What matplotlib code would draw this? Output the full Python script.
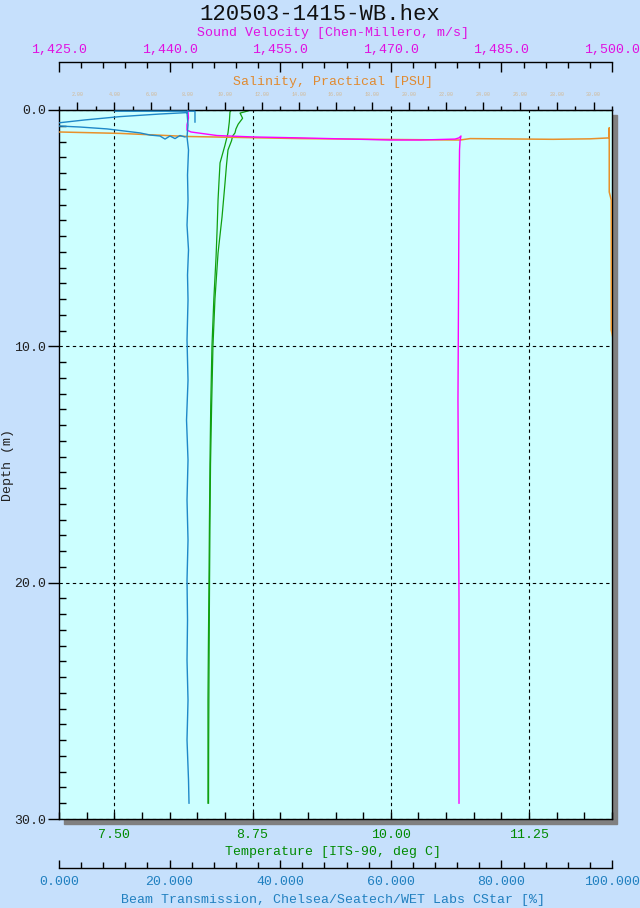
import numpy as np
import matplotlib
matplotlib.use("Agg")
import matplotlib.pyplot as plt
from matplotlib.ticker import MultipleLocator, FixedLocator, FuncFormatter
from matplotlib.patches import Rectangle

plt.rcParams['font.family'] = ['Liberation Mono', 'DejaVu Sans Mono']

# ---------------------------------------------------------------
# profile data (depth in m)
# ---------------------------------------------------------------
# temperature, two passes (deg C)
temp_a_depth = [0.0, 0.08, 0.5, 0.97, 1.5, 2.24, 3.0, 3.81, 5.0, 6.22, 8.0,
                9.99, 12.5, 14.98, 17.5, 20.0, 22.5, 24.97, 27.0, 29.33]
temp_a = [8.56, 8.546, 8.54, 8.528, 8.50, 8.456, 8.447, 8.438, 8.43, 8.420, 8.40,
          8.383, 8.372, 8.365, 8.360, 8.356, 8.351, 8.347, 8.347, 8.347]
temp_b_depth = [0.04, 0.13, 0.35, 0.6, 0.8, 0.97, 1.1, 1.3, 1.69, 2.3, 3.09,
                4.53, 6.05, 8.0, 9.99, 12.5, 14.98, 17.5, 20.0, 24.0, 27.0, 29.33]
temp_b = [8.709, 8.637, 8.66, 8.62, 8.60, 8.591, 8.57, 8.56, 8.528, 8.515, 8.501,
          8.474, 8.438, 8.41, 8.392, 8.38, 8.370, 8.365, 8.361, 8.356, 8.353, 8.352]

# beam transmission (%), nan = gap in the trace
beam_depth = [0.51, 0.05, 0.05, 0.05, np.nan,
              0.56, 0.42, 0.28, 0.17, 0.11, np.nan,
              0.67, 0.72, 0.80, 0.97, 1.06, 1.10, 1.23, 1.10, 1.21, 1.08, 1.14, np.nan,
              0.11, 0.63, 1.14, 1.69, 2.75, 3.81, 4.87, 5.92, 6.98, 8.04, 9.73,
              11.43, 13.12, 14.81, 16.50, 18.20, 19.89, 21.58, 23.28, 24.97,
              26.66, 28.35, 29.33]
beam = [24.59, 24.59, 23.15, 10.13, np.nan,
        -0.7, 4.70, 11.03, 18.26, 23.15, np.nan,
        -0.7, 3.80, 8.68, 14.65, 16.46, 18.26, 19.17, 20.07, 20.98, 21.88, 22.78, np.nan,
        23.15, 23.33, 23.15, 23.42, 23.24, 23.33, 23.15, 23.42, 23.24, 23.33, 23.15,
        23.33, 23.06, 23.33, 23.15, 23.33, 23.15, 23.24, 23.15, 23.33,
        23.15, 23.42, 23.51]

# sound velocity (m/s)
sv_depth = [0.04, 0.34, 0.63, 0.85, 0.93, 1.08, 1.14, 1.18, 1.23, 1.27, 1.27,
            1.23, 1.18, 1.10, 1.31, 1.69, 3.81, 8.04, 12.27, 16.50, 20.74,
            24.97, 29.33]
sv = [1442.49, 1442.56, 1442.36, 1442.36, 1442.90, 1446.43, 1451.31, 1457.69,
      1464.47, 1469.89, 1473.96, 1478.71, 1479.25, 1479.52, 1479.39, 1479.32,
      1479.25, 1479.18, 1479.11, 1479.18, 1479.25, 1479.25, 1479.25]

# salinity (PSU)
sal_depth = [0.91, 0.93, 0.99, 1.12, 1.21, 1.25, 1.27, 1.21, 1.24, 1.22, 1.18,
             0.76, 1.06, 3.47, 3.81, 9.31, 9.73, 29.33]
sal = [0.51, 1.0, 4.31, 7.95, 14.08, 19.5, 22.76, 23.3, 27.8, 29.81, 30.85,
       30.85, 30.85, 30.85, 30.96, 30.96, 31.07, 31.3]

# axis ranges / ticks
depth_lim = (30, 0)
temp_lim = (7, 12)
temp_ticks = [7.5, 8.75, 10.0, 11.25]
sal_lim = (1, 31)
sv_lim = (1425, 1500)
beam_lim = (0, 100)

# colours
BG = '#c6e0fc'
PLOT_BG = '#ccffff'
C_TEMP, C_TEMP_LBL = '#10a010', '#008a00'
C_BEAM, C_BEAM_LBL = '#1e88c8', '#2080c0'
C_SV, C_SV_LBL = '#ff00ff', '#e010e0'
C_SAL, C_SAL_LBL = '#e8902a', '#e08a30'
C_SAL_TICK = '#d2b894'

W, H = 640, 908
PT = 0.72  # points per pixel at dpi 100


def fx(x):
    return x / W


def fy(y):
    return 1 - y / H


fig = plt.figure(figsize=(W / 100, H / 100), dpi=100, facecolor=BG)

L, R, T, B = 59, 612, 110, 819
ax = fig.add_axes([fx(L), fy(B), (R - L) / W, (B - T) / H], facecolor=PLOT_BG)

# drop shadow behind the plot box
fig.patches.append(Rectangle((fx(L + 4.5), fy(B + 4.5)), (R - L) / W, (B - T) / H,
                             transform=fig.transFigure, color='#808080', zorder=-1))

for s in ax.spines.values():
    s.set_linewidth(1.0)

# ── temperature (main x) and depth
ax.set_xlim(*temp_lim)
ax.set_ylim(*depth_lim)
ax.xaxis.set_major_locator(FixedLocator(temp_ticks))
ax.xaxis.set_minor_locator(MultipleLocator(0.25))
ax.xaxis.set_major_formatter(FuncFormatter(lambda v, p: f"{v:.2f}"))
ax.tick_params(axis='x', which='both', direction='in', top=False, bottom=True,
               length=5, width=1, labelsize=9.5, labelcolor=C_TEMP_LBL, pad=7)
ax.yaxis.set_major_locator(MultipleLocator(10))
ax.yaxis.set_minor_locator(MultipleLocator(10 / 15))
ax.yaxis.set_major_formatter(FuncFormatter(lambda v, p: f"{v:.1f}"))
ax.tick_params(axis='y', which='major', direction='out', length=8, width=1,
               pad=1, labelsize=9.5, labelcolor='#202020')
ax.tick_params(axis='y', which='minor', direction='in', length=5, width=1)
ax.tick_params(axis='y', which='both', right=False)
ax.grid(True, which='major', color='black', linestyle=(0, (3, 3)), linewidth=0.8)

ax.plot(temp_a, temp_a_depth, color=C_TEMP, lw=0.9)
ax.plot(temp_b, temp_b_depth, color=C_TEMP, lw=0.9)

# ── salinity on the top edge
ax_sal = ax.twiny()
for s in ['bottom', 'left', 'right']:
    ax_sal.spines[s].set_visible(False)
ax_sal.set_xlim(*sal_lim)
ax_sal.xaxis.set_major_locator(MultipleLocator(2))
ax_sal.xaxis.set_minor_locator(MultipleLocator(1))
ax_sal.xaxis.set_major_formatter(FuncFormatter(lambda v, p: f"{v:.2f}"))
ax_sal.tick_params(axis='x', which='major', direction='out', length=5.8, width=1,
                   labelsize=3.6, labelcolor=C_SAL_TICK, pad=3.5)
ax_sal.tick_params(axis='x', which='minor', direction='out', length=3, width=1)
ax_sal.plot(sal, sal_depth, color=C_SAL, lw=1.1)

# ── sound velocity, detached top axis
ax_sv = ax.twiny()
for s in ['bottom', 'left', 'right']:
    ax_sv.spines[s].set_visible(False)
ax_sv.spines['top'].set_position(('outward', (T - 62) * PT))
ax_sv.spines['top'].set_linewidth(1.0)
ax_sv.set_xlim(*sv_lim)
ax_sv.xaxis.set_major_locator(MultipleLocator(15))
ax_sv.xaxis.set_minor_locator(MultipleLocator(3))
ax_sv.xaxis.set_major_formatter(FuncFormatter(lambda v, p: f"{v:,.1f}"))
ax_sv.tick_params(axis='x', which='major', direction='in', length=7, width=1,
                  labelsize=9.5, labelcolor=C_SV_LBL, pad=4)
ax_sv.tick_params(axis='x', which='minor', direction='in', length=4.5, width=1)
ax_sv.plot(sv, sv_depth, color=C_SV, lw=1.0)

# ── beam transmission, detached bottom axis
ax_bt = ax.twiny()
ax_bt.xaxis.set_ticks_position('bottom')
ax_bt.xaxis.set_label_position('bottom')
for s in ['top', 'left', 'right']:
    ax_bt.spines[s].set_visible(False)
ax_bt.spines['bottom'].set_visible(True)
ax_bt.spines['bottom'].set_position(('outward', (868 - B) * PT))
ax_bt.spines['bottom'].set_linewidth(1.0)
ax_bt.set_xlim(*beam_lim)
ax_bt.xaxis.set_major_locator(MultipleLocator(20))
ax_bt.xaxis.set_minor_locator(MultipleLocator(4))
ax_bt.xaxis.set_major_formatter(FuncFormatter(lambda v, p: f"{v:.3f}"))
ax_bt.tick_params(axis='x', which='major', direction='in', length=5.8, width=1,
                  labelsize=9.5, labelcolor=C_BEAM_LBL, pad=6)
ax_bt.tick_params(axis='x', which='minor', direction='in', length=4.3, width=1)
ax_bt.plot(beam, beam_depth, color=C_BEAM, lw=1.0)

# ── titles
fig.text(fx(320), fy(14), "120503-1415-WB.hex", ha='center', va='center',
         fontsize=16, color='#101010')
fig.text(fx(333), fy(33), "Sound Velocity [Chen-Millero, m/s]", ha='center',
         va='center', fontsize=9.5, color=C_SV_LBL)
fig.text(fx(333), fy(82), "Salinity, Practical [PSU]", ha='center',
         va='center', fontsize=9.5, color=C_SAL_LBL)
fig.text(fx(333), fy(852), "Temperature [ITS-90, deg C]", ha='center',
         va='center', fontsize=9.5, color=C_TEMP_LBL)
fig.text(fx(333), fy(900), "Beam Transmission, Chelsea/Seatech/WET Labs CStar [%]",
         ha='center', va='center', fontsize=9.5, color=C_BEAM_LBL)
fig.text(fx(8), fy(465), "Depth (m)", ha='center', va='center', rotation=90,
         fontsize=9.5, color='#202020')

fig.savefig("out.png", dpi=100, facecolor=BG)
